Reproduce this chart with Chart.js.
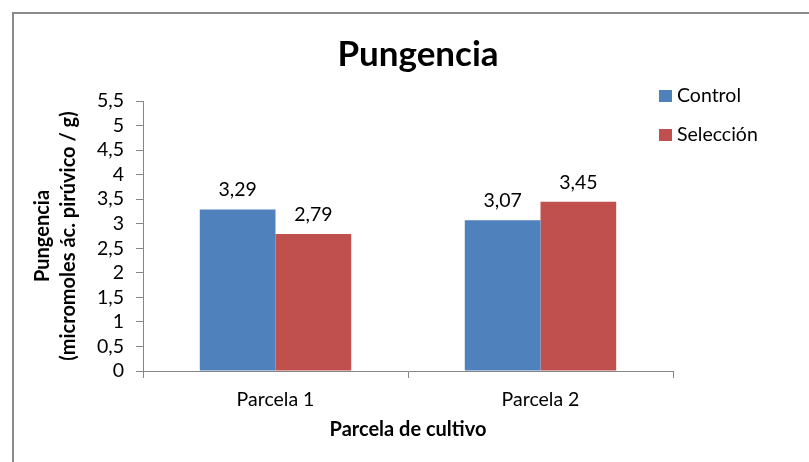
<!DOCTYPE html>
<html>
<head>
<meta charset="utf-8">
<script src="https://cdn.jsdelivr.net/npm/chart.js@4.4.1/dist/chart.umd.min.js"></script>
<style>
  html, body { margin: 0; padding: 0; background: #ffffff; }
  #wrap { width: 809px; height: 462px; }
</style>
</head>
<body>
<div id="wrap"><canvas id="chart" width="809" height="462"></canvas></div>
<script>
// Pungency per cultivation plot, control vs. selected line
const chartTitle = 'Pungencia';
const categories = ['Parcela 1', 'Parcela 2'];
const seriesNames = ['Control', 'Selección'];
const controlValues = [3.29, 3.07];
const seleccionValues = [2.79, 3.45];
const seriesColors = ['#4F81BD', '#C0504D'];
const yMin = 0;
const yMax = 5.5;
const yStep = 0.5;
const xAxisTitle = 'Parcela de cultivo';
const yAxisTitle = ['Pungencia', '(micromoles ác. pirúvico / g)'];

const FONT = 'Lato, "Open Sans", sans-serif';
const BODY_SIZE = 19.5;
const AXIS_COLOR = '#868686';
const TEXT_COLOR = '#000000';

const decimalComma = v => String(v).replace('.', ',');

// Frame, title, legend and value labels drawn on top of the bars
const decorations = {
  id: 'decorations',
  afterDraw(chart) {
    const ctx = chart.ctx;
    ctx.save();

    // outer frame (top and left edges)
    ctx.strokeStyle = '#8a8a8a';
    ctx.lineWidth = 2;
    ctx.beginPath();
    ctx.moveTo(13, 462);
    ctx.lineTo(13, 13);
    ctx.lineTo(809, 13);
    ctx.stroke();

    // chart title
    ctx.fillStyle = TEXT_COLOR;
    ctx.font = 'bold 35px ' + FONT;
    ctx.textAlign = 'center';
    ctx.textBaseline = 'alphabetic';
    ctx.fillText(chartTitle, 418, 66);

    // value labels above each bar
    ctx.font = BODY_SIZE + 'px ' + FONT;
    chart.data.datasets.forEach((ds, di) => {
      const meta = chart.getDatasetMeta(di);
      meta.data.forEach((bar, i) => {
        ctx.fillText(decimalComma(ds.data[i]), bar.x, bar.y - 13);
      });
    });

    // legend
    ctx.textAlign = 'left';
    chart.data.datasets.forEach((ds, di) => {
      const baseY = 102 + di * 39;
      ctx.fillStyle = ds.backgroundColor;
      ctx.fillRect(659, baseY - 12, 13, 12);
      ctx.fillStyle = TEXT_COLOR;
      ctx.fillText(ds.label, 677, baseY);
    });

    ctx.restore();
  }
};

new Chart(document.getElementById('chart'), {
  type: 'bar',
  data: {
    labels: categories,
    datasets: [
      { label: seriesNames[0], data: controlValues, backgroundColor: seriesColors[0] },
      { label: seriesNames[1], data: seleccionValues, backgroundColor: seriesColors[1] }
    ]
  },
  options: {
    responsive: false,
    animation: false,
    devicePixelRatio: 1,
    layout: { padding: { left: 12, right: 136, top: 101, bottom: 16 } },
    datasets: { bar: { categoryPercentage: 2 / 3.5, barPercentage: 1 } },
    plugins: {
      legend: { display: false },
      title: { display: false },
      tooltip: { enabled: false }
    },
    scales: {
      x: {
        offset: true,
        grid: { display: true, offset: true, drawOnChartArea: false, drawTicks: true, tickLength: 7, color: AXIS_COLOR },
        border: { display: true, color: AXIS_COLOR, width: 1 },
        ticks: { color: TEXT_COLOR, font: { family: FONT, size: BODY_SIZE }, padding: 10 },
        title: { display: true, text: xAxisTitle, color: TEXT_COLOR, font: { family: FONT, size: 20, weight: 'bold' }, padding: { top: 0, bottom: 4 } },
        afterFit(scale) { scale.height = 75; }
      },
      y: {
        min: yMin,
        max: yMax,
        grid: { display: true, drawOnChartArea: false, drawTicks: true, tickLength: 7, color: AXIS_COLOR },
        border: { display: true, color: AXIS_COLOR, width: 1 },
        ticks: { stepSize: yStep, autoSkip: false, color: TEXT_COLOR, font: { family: FONT, size: BODY_SIZE }, padding: 12, callback: v => decimalComma(v) },
        title: { display: true, text: yAxisTitle, color: TEXT_COLOR, font: { family: FONT, size: 20, weight: 'bold', lineHeight: 1.3 }, padding: { top: 18, bottom: 0 } },
        afterFit(scale) { scale.width = 131; }
      }
    }
  },
  plugins: [decorations]
});
</script>
</body>
</html>
